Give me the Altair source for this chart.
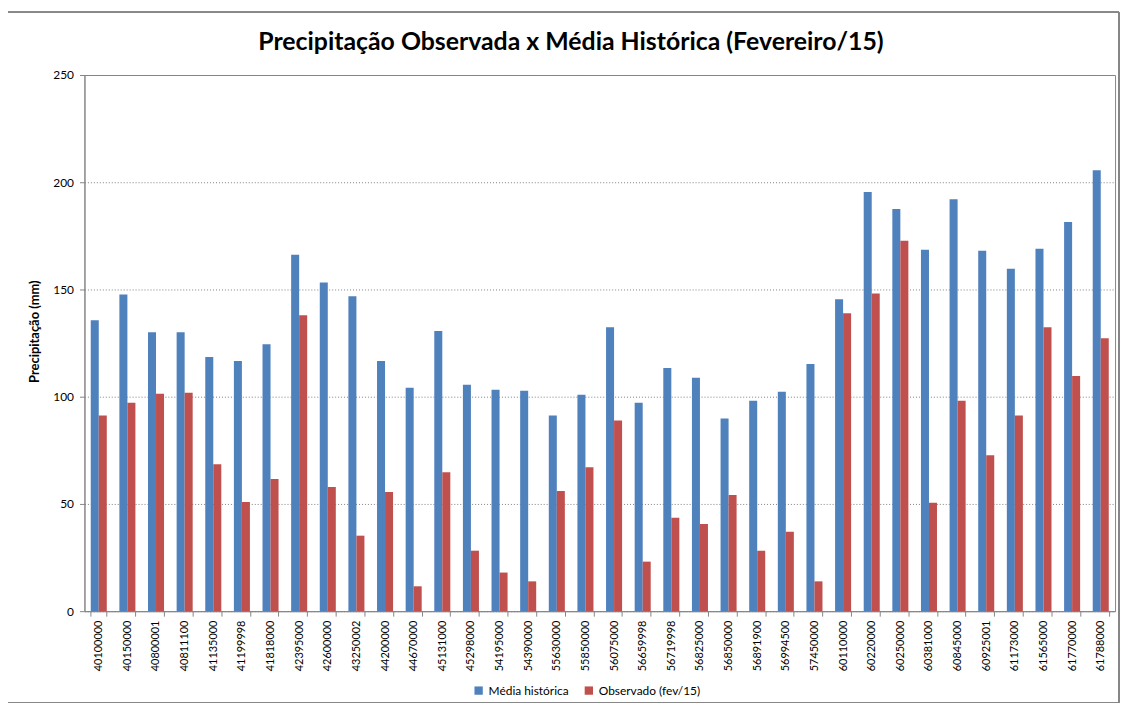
import altair as alt
import pandas as pd

estacoes = ["40100000", "40150000", "40800001", "40811100", "41135000", "41199998",
            "41818000", "42395000", "42600000", "43250002", "44200000", "44670000",
            "45131000", "45298000", "54195000", "54390000", "55630000", "55850000",
            "56075000", "56659998", "56719998", "56825000", "56850000", "56891900",
            "56994500", "57450000", "60110000", "60220000", "60250000", "60381000",
            "60845000", "60925001", "61173000", "61565000", "61770000", "61788000"]

media_historica = [135.6, 147.7, 130.0, 130.0, 118.5, 116.7, 124.5, 166.2, 153.2, 146.8,
                   116.7, 104.2, 130.6, 105.6, 103.2, 102.8, 91.2, 100.9, 132.4, 97.2,
                   113.4, 108.8, 89.8, 98.1, 102.3, 115.3, 145.4, 195.4, 187.5, 168.5,
                   192.1, 168.0, 159.7, 169.0, 181.5, 205.6]

observado = [91.2, 97.2, 101.4, 101.9, 68.5, 50.9, 61.6, 138.0, 57.9, 35.2,
             55.6, 11.6, 64.8, 28.2, 18.0, 13.9, 56.0, 67.1, 88.9, 23.1,
             43.5, 40.7, 54.2, 28.2, 37.0, 13.9, 138.9, 148.1, 172.7, 50.5,
             98.1, 72.7, 91.2, 132.4, 109.7, 127.3]

series = ["Média histórica", "Observado (fev/15)"]
cores = ["#4F81BD", "#C0504D"]
titulo = "Precipitação Observada x Média Histórica (Fevereiro/15)"

rows = []
for i, e in enumerate(estacoes):
    rows.append({"estacao": e, "serie": series[0], "valor": media_historica[i]})
    rows.append({"estacao": e, "serie": series[1], "valor": observado[i]})
df = pd.DataFrame(rows)

FONT = "Lato"

bars = alt.Chart(df).mark_bar().encode(
    x=alt.X("estacao:N", sort=estacoes, title=None,
            scale=alt.Scale(paddingInner=0.44, paddingOuter=0.22),
            axis=alt.Axis(labelAngle=-90, labelFontSize=11, labelFont=FONT,
                          labelColor="#000000", labelPadding=4, tickBand="extent",
                          tickSize=5, tickColor="#868686", domainColor="#868686",
                          labelBaseline="middle", labelAlign="right")),
    xOffset=alt.XOffset("serie:N", sort=series),
    y=alt.Y("valor:Q", title="Precipitação (mm)",
            scale=alt.Scale(domain=[0, 250], nice=False),
            axis=alt.Axis(values=[0, 50, 100, 150, 200, 250], labelFontSize=12,
                          labelFont=FONT, labelColor="#000000", titleFont=FONT,
                          titleFontSize=13, titleFontWeight="bold", titleColor="#000000",
                          titlePadding=11, titleY=258, grid=True, gridColor="#808080",
                          gridDash=[1, 2], gridWidth=1, tickSize=5, tickColor="#868686",
                          domainColor="#868686", labelPadding=6)),
    color=alt.Color("serie:N", sort=series,
                    scale=alt.Scale(domain=series, range=cores),
                    legend=alt.Legend(title=None, orient="none", direction="horizontal",
                                      legendX=391, legendY=614, symbolType="square",
                                      symbolSize=70, symbolStrokeWidth=0,
                                      labelFont=FONT, labelFontSize=12,
                                      labelColor="#000000", columnPadding=14)),
)

frame = alt.Chart(df).mark_rect(filled=False, stroke="#878787", strokeWidth=1).encode(
    x=alt.value(-81), x2=alt.value(1042), y=alt.value(-63), y2=alt.value(632)
)

title_df = pd.DataFrame({"t": [titulo]})
title_mark = alt.Chart(title_df).mark_text(
    font=FONT, fontSize=25, fontWeight="bold", color="#000000",
    align="center", baseline="alphabetic"
).encode(text="t:N", x=alt.value(490), y=alt.value(-25))

chart = alt.layer(bars, frame, title_mark).properties(
    width=1038, height=540,
    autosize=alt.AutoSizeParams(type="none"),
    padding={"left": 77, "top": 65, "right": 8, "bottom": 90},
).configure_view(stroke="#868686", strokeWidth=1)

chart.save("out.html", embed_options={"renderer": "svg", "actions": False})
